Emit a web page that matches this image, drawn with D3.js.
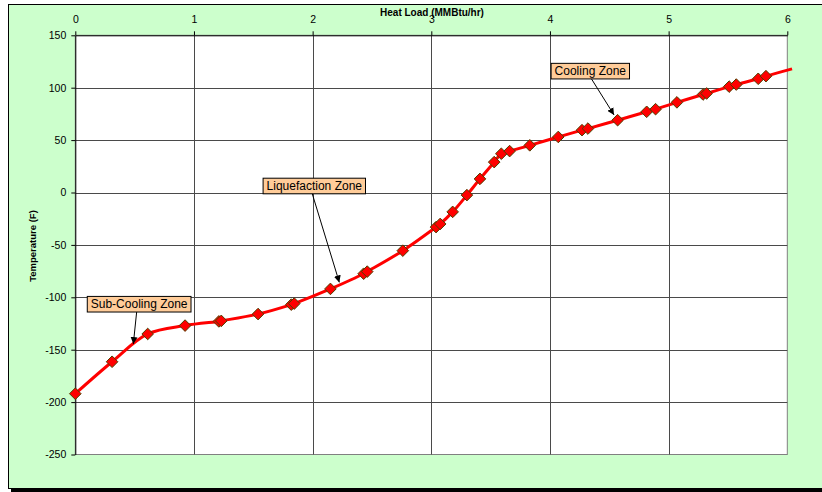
<!DOCTYPE html>
<html>
<head>
<meta charset="utf-8">
<script src="https://cdn.jsdelivr.net/npm/d3@7"></script>
<style>
  body { margin: 0; background: #fff; }
  text { font-family: "Liberation Sans", Arial, sans-serif; fill: #000; }
</style>
</head>
<body>
<div id="chart"></div>
<script>
/** Chart data. */
const heatLoad = [0, 0.31, 0.61, 0.925, 1.21, 1.23, 1.54, 1.82, 1.845, 2.15, 2.43, 2.46,
    2.76, 3.04, 3.075, 3.18, 3.30, 3.41, 3.53, 3.59, 3.66, 3.83, 4.07, 4.27, 4.32, 4.57,
    4.815, 4.89, 5.07, 5.29, 5.32, 5.51, 5.57, 5.755, 5.82];
const temperature = [-192, -161.5, -135, -127, -123, -122.5, -116, -107, -106, -92, -77.5, -75.5,
    -55.5, -33, -30, -18.5, -2.5, 13, 29, 37, 39.5, 45, 53, 59.5, 61, 69,
    77, 79.5, 86, 93.5, 94.5, 101, 103, 108.5, 111];
// the smoothed line runs a little past the last marker
const lineEnd = {x: 6.04, y: 118};

const xTicks = [0, 1, 2, 3, 4, 5, 6];
const yTicks = [150, 100, 50, 0, -50, -100, -150, -200, -250];

const zoneLabels = ["Sub-Cooling Zone", "Liquefaction Zone", "Cooling Zone"];
const zoneBoxAt = [[0.538, -106.6], [2.014, 6.2], [4.34, 115.8]];   // box centre
const zoneArrowFrom = [0.517, 1.997, 4.35];                          // heat load where arrow leaves box
const zoneArrowTo = [[0.489, -144.6], [2.225, -85.8], [4.54, 74]];

/** Layout. */
const WIDTH = 822;
const HEIGHT = 492;
const PLOT = {left: 75.3, right: 787.3, top: 35.3, bottom: 454.5};

const x = d3.scaleLinear().domain([0, 6]).range([PLOT.left, PLOT.right]);
const y = d3.scaleLinear().domain([-250, 150]).range([PLOT.bottom, PLOT.top]);

const svg = d3.select("#chart").append("svg")
    .attr("width", WIDTH)
    .attr("height", HEIGHT);

svg.append("defs").append("marker")
    .attr("id", "arrow")
    .attr("viewBox", "0 0 10 10")
    .attr("refX", 10).attr("refY", 5)
    .attr("markerWidth", 7).attr("markerHeight", 7)
    .attr("markerUnits", "userSpaceOnUse")
    .attr("orient", "auto")
    .append("path")
    .attr("d", "M0,0L10,5L0,10z")
    .attr("fill", "#000");

// outer chart frame with shadow
svg.append("rect")
    .attr("x", 11).attr("y", 7)
    .attr("width", 820).attr("height", 485)
    .attr("fill", "#000");
svg.append("rect")
    .attr("x", 8.5).attr("y", 4.5)
    .attr("width", 820).attr("height", 484)
    .attr("fill", "#ccffcc")
    .attr("stroke", "#000");

// plot area
svg.append("rect")
    .attr("x", PLOT.left).attr("y", PLOT.top)
    .attr("width", PLOT.right - PLOT.left)
    .attr("height", PLOT.bottom - PLOT.top)
    .attr("fill", "#fff")
    .attr("stroke", "#808080");

// gridlines
const grid = svg.append("g").attr("stroke", "#4a4a4a").attr("stroke-width", 1);
grid.selectAll("line.v")
    .data(xTicks.slice(1, -1))
    .join("line")
    .attr("x1", d => Math.round(x(d)) + 0.5).attr("x2", d => Math.round(x(d)) + 0.5)
    .attr("y1", PLOT.top).attr("y2", PLOT.bottom);
grid.selectAll("line.h")
    .data(yTicks.slice(1, -1))
    .join("line")
    .attr("y1", d => Math.round(y(d)) + 0.5).attr("y2", d => Math.round(y(d)) + 0.5)
    .attr("x1", PLOT.left).attr("x2", PLOT.right);

// axes (plain hyphen for negatives, like the original)
const xAxis = d3.axisTop(x)
    .tickValues(xTicks)
    .tickFormat(d => String(d))
    .tickSizeInner(4)
    .tickSizeOuter(0)
    .tickPadding(8);
const yAxis = d3.axisLeft(y)
    .tickValues(yTicks)
    .tickFormat(d => String(d))
    .tickSizeInner(4)
    .tickSizeOuter(0)
    .tickPadding(5);

const gx = svg.append("g")
    .attr("transform", `translate(0,${PLOT.top})`)
    .call(xAxis);
const gy = svg.append("g")
    .attr("transform", `translate(${PLOT.left},0)`)
    .call(yAxis);
[gx, gy].forEach(g => {
    g.select(".domain").attr("stroke", "#000");
    g.selectAll(".tick line").attr("stroke", "#000");
    g.selectAll(".tick text")
        .attr("font-size", "10.5px")
        .attr("font-family", "'Liberation Sans', Arial, sans-serif")
        .attr("fill", "#000");
});

svg.append("text")
    .attr("x", 432).attr("y", 15.5)
    .attr("text-anchor", "middle")
    .attr("font-size", "10px")
    .attr("font-weight", "bold")
    .text("Heat Load (MMBtu/hr)");

svg.append("text")
    .attr("transform", "translate(35.5,246) rotate(-90)")
    .attr("text-anchor", "middle")
    .attr("font-size", "9.5px")
    .attr("font-weight", "bold")
    .text("Temperature (F)");

// series
const points = heatLoad.map((h, i) => ({x: h, y: temperature[i]}));
const line = d3.line()
    .curve(d3.curveCatmullRom.alpha(0.5))
    .x(d => x(d.x))
    .y(d => y(d.y));

svg.append("path")
    .attr("d", line(points.concat([lineEnd])))
    .attr("fill", "none")
    .attr("stroke", "#ff0000")
    .attr("stroke-width", 3);

svg.append("g").selectAll("path")
    .data(points)
    .join("path")
    .attr("transform", d => `translate(${x(d.x)},${y(d.y)})`)
    .attr("d", "M0,-5.8L5.8,0L0,5.8L-5.8,0Z")
    .attr("fill", "#ff0000")
    .attr("stroke", "#4d4000")
    .attr("stroke-width", 1);

// zone callouts
zoneLabels.forEach((label, i) => {
    const g = svg.append("g");
    const [cx, cy] = zoneBoxAt[i];
    const text = g.append("text")
        .attr("x", x(cx)).attr("y", y(cy) + 3.5)
        .attr("text-anchor", "middle")
        .attr("font-size", "12px")
        .text(label);
    const w = text.node().getComputedTextLength() + 7;
    const h = 15.6;
    g.insert("rect", "text")
        .attr("x", x(cx) - w / 2).attr("y", y(cy) - h / 2)
        .attr("width", w).attr("height", h)
        .attr("fill", "#ffcc99")
        .attr("stroke", "#000");
    svg.append("line")
        .attr("x1", x(zoneArrowFrom[i])).attr("y1", y(cy) + h / 2)
        .attr("x2", x(zoneArrowTo[i][0])).attr("y2", y(zoneArrowTo[i][1]))
        .attr("stroke", "#000")
        .attr("stroke-width", 1)
        .attr("marker-end", "url(#arrow)");
});
</script>
</body>
</html>
